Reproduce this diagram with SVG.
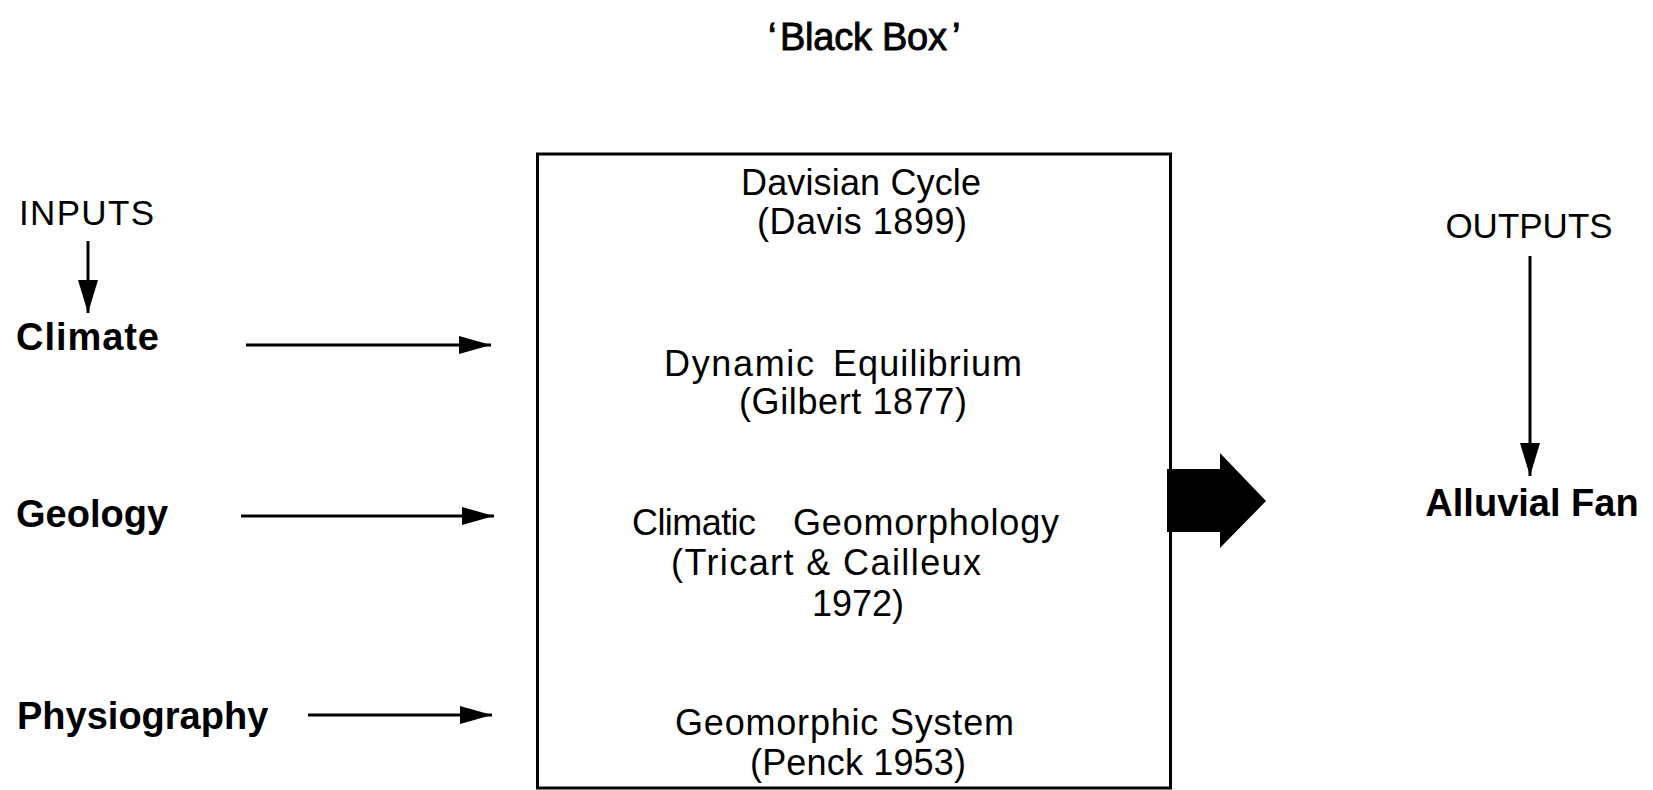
<svg xmlns="http://www.w3.org/2000/svg" width="1653" height="790" viewBox="0 0 1653 790">
<style>
text{font-family:"Liberation Sans",Arial,sans-serif;fill:#000}
.lab{font-size:38px;font-weight:bold}
.io{font-size:35px}
.box{font-size:36px}
.ttl{font-size:38px;stroke:#000;stroke-width:0.9}
.ln{stroke:#000;stroke-width:3;fill:none}
</style>
<defs>
<marker id="ah" markerUnits="userSpaceOnUse" markerWidth="32" markerHeight="18" refX="32" refY="9" orient="auto">
<path d="M0,0 L32,9 L0,18 Z" fill="#000"/>
</marker>
<marker id="ahv" markerUnits="userSpaceOnUse" markerWidth="33" markerHeight="20" refX="33" refY="10" orient="auto">
<path d="M0,0 L33,10 L0,20 Z" fill="#000"/>
</marker>
</defs>
<rect width="1653" height="790" fill="#fff"/>
<g id="title"><text class="ttl" y="50"><tspan x="768">‘</tspan><tspan x="780" textLength="167">Black Box</tspan><tspan x="952">’</tspan></text></g>
<g id="inputs"><text class="io" x="19" y="225" textLength="135">INPUTS</text></g>
<g id="climate"><text class="lab" x="16" y="350" textLength="143">Climate</text></g>
<g id="geology"><text class="lab" x="16" y="527">Geology</text></g>
<g id="physiography"><text class="lab" x="17" y="729">Physiography</text></g>
<g id="blackbox">
<rect x="537.5" y="154" width="633" height="634" fill="none" stroke="#000" stroke-width="3"/>
<text class="box" x="741" y="195" textLength="240">Davisian Cycle</text>
<text class="box" x="757" y="234" textLength="210">(Davis 1899)</text>
<text class="box" x="664" y="376" textLength="150">Dynamic</text>
<text class="box" x="833" y="376" textLength="189">Equilibrium</text>
<text class="box" x="739" y="414" textLength="228">(Gilbert 1877)</text>
<text class="box" x="632" y="535" textLength="124">Climatic</text>
<text class="box" x="793" y="535" textLength="266">Geomorphology</text>
<text class="box" x="671" y="575" textLength="310">(Tricart &amp; Cailleux</text>
<text class="box" x="858" y="616" text-anchor="middle">1972)</text>
<text class="box" x="675" y="735" textLength="339">Geomorphic System</text>
<text class="box" x="750" y="775" textLength="216">(Penck 1953)</text>
</g>
<g id="outputs"><text class="io" x="1529" y="238" text-anchor="middle">OUTPUTS</text></g>
<g id="alluvialfan"><text class="lab" x="1532" y="516" text-anchor="middle">Alluvial Fan</text></g>
<g id="connectors">
<line class="ln" x1="88" y1="241" x2="88" y2="313" marker-end="url(#ahv)"/>
<line class="ln" x1="246" y1="345" x2="491" y2="345" marker-end="url(#ah)"/>
<line class="ln" x1="241" y1="516" x2="494" y2="516" marker-end="url(#ah)"/>
<line class="ln" x1="308" y1="715" x2="492" y2="715" marker-end="url(#ah)"/>
<line class="ln" x1="1530" y1="256" x2="1530" y2="476" marker-end="url(#ahv)"/>
<polygon points="1167,469 1220,469 1220,453 1266,501 1220,548 1220,532 1167,532" fill="#000"/>
</g>
</svg>
